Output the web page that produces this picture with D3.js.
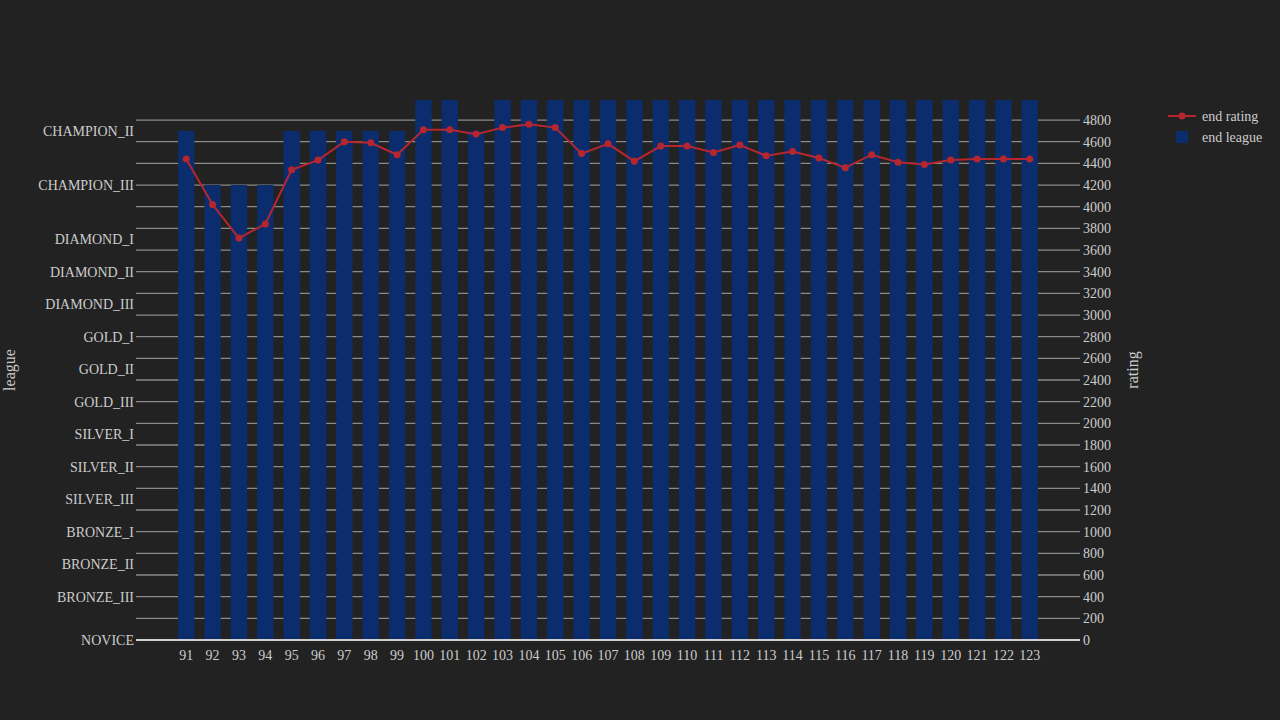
<!DOCTYPE html>
<html>
<head>
<meta charset="utf-8">
<script src="https://cdn.jsdelivr.net/npm/d3@7"></script>
<style>
  body { margin: 0; background: #222222; }
  text { font-family: "Liberation Serif", "DejaVu Serif", serif; fill: #cccccc; }
</style>
</head>
<body>
<div id="chart"></div>
<script>
const seasons = d3.range(91, 124)
const leagueNames = ["NOVICE", "BRONZE_III", "BRONZE_II", "BRONZE_I", "SILVER_III", "SILVER_II", "SILVER_I",
  "GOLD_III", "GOLD_II", "GOLD_I", "DIAMOND_III", "DIAMOND_II", "DIAMOND_I", "CHAMPION_III", "CHAMPION_II", "CHAMPION_I"]
const leagueValues = [0, 400, 700, 1000, 1300, 1600, 1900, 2200, 2500, 2800, 3100, 3400, 3700, 4200, 4700, 5200]
const endLeague = ["CHAMPION_II", "CHAMPION_III", "CHAMPION_III", "CHAMPION_III", "CHAMPION_II", "CHAMPION_II",
  "CHAMPION_II", "CHAMPION_II", "CHAMPION_II", "CHAMPION_I", "CHAMPION_I", "CHAMPION_II",
  "CHAMPION_I", "CHAMPION_I", "CHAMPION_I", "CHAMPION_I", "CHAMPION_I", "CHAMPION_I", "CHAMPION_I",
  "CHAMPION_I", "CHAMPION_I", "CHAMPION_I", "CHAMPION_I", "CHAMPION_I", "CHAMPION_I", "CHAMPION_I",
  "CHAMPION_I", "CHAMPION_I", "CHAMPION_I", "CHAMPION_I", "CHAMPION_I", "CHAMPION_I", "CHAMPION_I"]
const endRating = [4440, 4020, 3710, 3840, 4340, 4430, 4600, 4590, 4480, 4710, 4710, 4670, 4730, 4760, 4730,
  4490, 4580, 4420, 4560, 4560, 4500, 4570, 4470, 4510, 4450, 4360, 4480, 4410, 4390, 4430, 4440, 4440, 4440]
const ratingTicks = d3.range(0, 4801, 200)

const width = 1280, height = 720
const margin = { top: 100, right: 237, bottom: 80, left: 173 }

const x = d3.scaleBand()
  .domain(seasons)
  .range([margin.left, width - margin.right])
  .paddingInner(0.38).paddingOuter(0.19)

const y = d3.scaleLinear()
  .domain([0, 4985])
  .range([height - margin.bottom, margin.top])

const leagueValue = d => leagueValues[leagueNames.indexOf(d)]

const svg = d3.select("#chart").append("svg")
  .attr("width", width).attr("height", height)

svg.append("defs").append("clipPath").attr("id", "plot")
  .append("rect").attr("x", margin.left).attr("y", margin.top)
  .attr("width", width - margin.left - margin.right).attr("height", height - margin.top - margin.bottom)

// grid lines (extend past the plot like ticks)
svg.append("g").attr("stroke", "#8a8a8a").attr("stroke-width", 1.3)
  .selectAll("line").data(ratingTicks.filter(d => d > 0)).join("line")
  .attr("x1", 136).attr("x2", 1080)
  .attr("y1", d => y(d)).attr("y2", d => y(d))

// bars
svg.append("g").attr("clip-path", "url(#plot)").attr("fill", "#0b2d6e")
  .selectAll("rect").data(seasons).join("rect")
  .attr("x", d => x(d))
  .attr("width", x.bandwidth())
  .attr("y", (d, i) => y(leagueValue(endLeague[i])))
  .attr("height", (d, i) => y(0) - y(leagueValue(endLeague[i])))

// zero line
svg.append("line").attr("stroke", "#cfcfcf").attr("stroke-width", 2)
  .attr("x1", 136).attr("x2", 1080).attr("y1", y(0)).attr("y2", y(0))

// rating line
const cx = d => x(d) + x.bandwidth() / 2
svg.append("path").datum(seasons)
  .attr("fill", "none").attr("stroke", "#b5262f").attr("stroke-width", 2)
  .attr("d", d3.line().x(cx).y((d, i) => y(endRating[i])))
svg.append("g").attr("fill", "#b5262f")
  .selectAll("circle").data(seasons).join("circle")
  .attr("cx", cx).attr("cy", (d, i) => y(endRating[i])).attr("r", 3.5)

// left league labels
svg.append("g").attr("font-size", 14).attr("text-anchor", "end")
  .selectAll("text").data(leagueNames.filter(n => leagueValue(n) <= 4985)).join("text")
  .attr("x", 134).attr("y", d => y(leagueValue(d))).attr("dy", "0.35em")
  .text(d => d)

// right rating labels
svg.append("g").attr("font-size", 14)
  .selectAll("text").data(ratingTicks).join("text")
  .attr("x", 1083).attr("y", d => y(d)).attr("dy", "0.35em")
  .text(d => d)

// x labels
svg.append("g").attr("font-size", 14).attr("text-anchor", "middle")
  .selectAll("text").data(seasons).join("text")
  .attr("x", cx).attr("y", 655).attr("dy", "0.35em")
  .text(d => d)

// axis titles
svg.append("text").attr("font-size", 16).attr("text-anchor", "middle")
  .attr("transform", `translate(15,${(margin.top + height - margin.bottom) / 2}) rotate(-90)`)
  .text("league")
svg.append("text").attr("font-size", 16).attr("text-anchor", "middle")
  .attr("transform", `translate(1138,${(margin.top + height - margin.bottom) / 2}) rotate(-90)`)
  .text("rating")

// legend
const lg = svg.append("g").attr("font-size", 14)
lg.append("line").attr("x1", 1168).attr("x2", 1196).attr("y1", 116).attr("y2", 116)
  .attr("stroke", "#b5262f").attr("stroke-width", 2)
lg.append("circle").attr("cx", 1182).attr("cy", 116).attr("r", 3.5).attr("fill", "#b5262f")
lg.append("text").attr("x", 1202).attr("y", 116).attr("dy", "0.35em").text("end rating")
lg.append("rect").attr("x", 1176).attr("y", 131).attr("width", 12).attr("height", 12).attr("fill", "#0b2d6e")
lg.append("text").attr("x", 1202).attr("y", 137).attr("dy", "0.35em").text("end league")
</script>
</body>
</html>
